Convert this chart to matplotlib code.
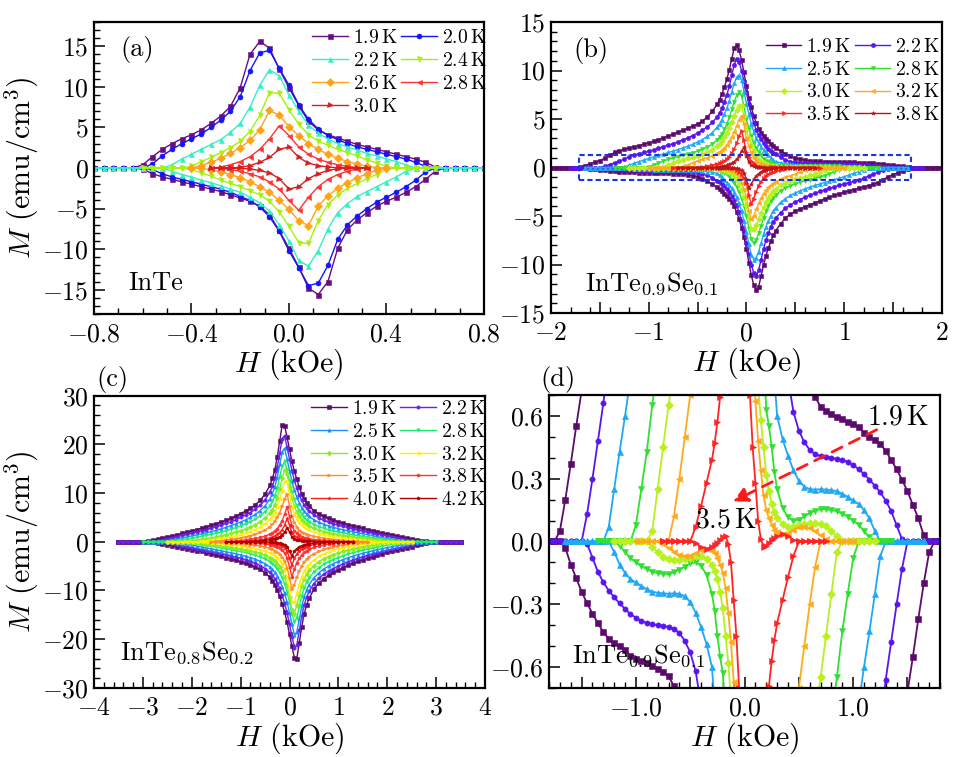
import numpy as np
import matplotlib
matplotlib.use('Agg')
import matplotlib.pyplot as plt
from matplotlib.patches import Rectangle
from matplotlib.ticker import MultipleLocator, FuncFormatter

plt.rcParams['font.family'] = 'serif'
plt.rcParams['font.serif'] = ['cmr10']
plt.rcParams['mathtext.fontset'] = 'cm'
plt.rcParams['axes.formatter.use_mathtext'] = True

# ---------------- data ----------------
# each list is the upper (field-decreasing) branch M(H) on the panel's H grid,
# the lower branch follows from the point symmetry of the loops

# (a) InTe
h_a = [-0.80, -0.76, -0.72, -0.68, -0.64, -0.60, -0.56, -0.52, -0.48, -0.44, -0.40,
       -0.36, -0.32, -0.28, -0.24, -0.20, -0.16, -0.12, -0.08, -0.04, 0.00,
       0.04, 0.08, 0.12, 0.16, 0.20, 0.24, 0.28, 0.32, 0.36, 0.40,
       0.44, 0.48, 0.52, 0.56, 0.60, 0.64, 0.68, 0.72, 0.76, 0.80]
temps_a = ['1.9', '2.0', '2.2', '2.4', '2.6', '2.8', '3.0']
a19 = [0]*5 + [0.4, 1.4, 2.3, 3.0, 3.6, 4.1, 4.7, 5.5, 6.4, 7.6, 9.9, 14.0, 15.6, 14.8, 12.2,
               9.9, 7.7, 5.75, 4.7, 4.1, 3.7, 3.3, 2.9, 2.6, 2.3, 2.0, 1.7, 1.4, 1.1, 0.7, 0.15] + [0]*5
a20 = [0]*5 + [0, 0.5, 1.5, 2.3, 3.0, 3.6, 4.2, 5.0, 5.9, 7.0, 8.8, 12.0, 14.2, 14.5, 12.3,
               10.2, 7.8, 6.0, 4.8, 4.0, 3.5, 3.0, 2.6, 2.3, 2.0, 1.7, 1.4, 1.1, 0.7, 0.2, 0] + [0]*5
a22 = [0]*7 + [0, 0.4, 1.1, 1.7, 2.3, 2.9, 3.5, 4.4, 5.5, 7.5, 10.2, 12.1, 11.4, 9.0,
               7.0, 5.3, 4.3, 3.6, 3.0, 2.6, 2.2, 1.8, 1.5, 1.1, 0.8, 0.4, 0] + [0]*7
a24 = [0]*9 + [0, 0.2, 0.8, 1.3, 1.9, 2.5, 3.3, 4.5, 6.5, 9.3, 9.2, 7.2,
               5.4, 4.1, 3.3, 2.8, 2.3, 1.9, 1.5, 1.0, 0.6, 0.2, 0] + [0]*9
a26 = [0]*10 + [0, 0.3, 0.7, 1.2, 1.8, 2.5, 3.4, 4.7, 7.1, 6.5, 5.1,
                4.0, 3.0, 2.3, 1.7, 1.2, 0.8, 0.5, 0.2, 0.05, 0] + [0]*10
a28 = [0]*12 + [0, 0.1, 0.4, 0.8, 1.4, 2.3, 3.6, 5.2, 4.0, 2.6, 1.7, 1.1, 0.7, 0.4, 0.2, 0.05, 0] + [0]*12
a30 = [0]*14 + [0, 0.1, 0.3, 0.7, 1.3, 2.3, 2.6, 1.3, 0.6, 0.3, 0.12, 0.03, 0] + [0]*14
hmax_a = [0.8, 0.8, 0.8, 0.6, 0.4, 0.32, 0.32]

# (b) and (d) InTe0.9Se0.1
h_b = [-2.0, -1.95, -1.9, -1.85, -1.8, -1.75, -1.7, -1.65, -1.6, -1.55, -1.5, -1.45,
       -1.4, -1.35, -1.3, -1.25, -1.2, -1.15, -1.1, -1.05, -1.0, -0.95, -0.9, -0.85,
       -0.8, -0.75, -0.7, -0.65, -0.6, -0.55, -0.5, -0.45, -0.4, -0.35,
       -0.3, -0.275, -0.25, -0.225, -0.2, -0.175, -0.15, -0.125, -0.1, -0.075, -0.05, -0.025,
       0.0, 0.025, 0.05, 0.075, 0.1, 0.125, 0.15, 0.175, 0.2, 0.225, 0.25, 0.275, 0.3,
       0.35, 0.4, 0.45, 0.5, 0.55, 0.6, 0.65, 0.7, 0.75, 0.8, 0.85, 0.9, 0.95, 1.0,
       1.05, 1.1, 1.15, 1.2, 1.25, 1.3, 1.35, 1.4, 1.45, 1.5, 1.55, 1.6, 1.65, 1.7,
       1.75, 1.8, 1.85, 1.9, 1.95, 2.0]
temps_b = ['1.9', '2.2', '2.5', '2.8', '3.0', '3.2', '3.5', '3.8']
b19 = [0]*6 + [0.05, 0.2, 0.37, 0.55, 0.72, 0.95, 1.25, 1.55, 1.72, 1.87, 2.0, 2.13, 2.27, 2.4,
               2.55, 2.72, 2.88, 3.05, 3.25, 3.45, 3.65, 3.85, 4.05, 4.27, 4.5, 4.8, 5.2, 5.8] \
    + [6.5, 7.0, 7.6, 8.3, 9.1, 10.1, 11.2, 12.3, 12.6, 12.1, 11.1, 9.8, 8.4, 7.2, 6.2, 5.3,
       4.6, 4.0, 3.6, 3.25, 2.95, 2.7, 2.45, 2.25, 2.05] \
    + [1.7, 1.4, 1.15, 0.97, 0.85, 0.76, 0.69, 0.645, 0.625, 0.61, 0.595, 0.583, 0.572, 0.56,
       0.545, 0.52, 0.5, 0.483, 0.465, 0.433, 0.39, 0.345, 0.295, 0.24, 0.175, 0.11, 0.03] + [0]*7
b22 = [0]*11 + [0.13, 0.3, 0.48, 0.66, 0.88, 1.12, 1.3, 1.43, 1.56, 1.68, 1.82, 1.98, 2.15,
                2.3, 2.47, 2.65, 2.85, 3.05, 3.3, 3.55, 3.85, 4.2, 4.65] \
    + [5.2, 5.6, 6.1, 6.8, 7.5, 8.4, 9.5, 10.6, 11.2, 10.9, 10.0, 8.9, 7.8, 6.5, 5.5, 4.6,
       3.9, 3.35, 2.9, 2.5, 2.2, 1.95, 1.7, 1.5, 1.35] \
    + [1.05, 0.78, 0.62, 0.53, 0.475, 0.437, 0.418, 0.408, 0.404, 0.4, 0.395, 0.389, 0.38,
       0.364, 0.347, 0.322, 0.296, 0.266, 0.235, 0.195, 0.145, 0.078, 0.01] + [0]*11
b25 = [0]*15 + [0.07, 0.25, 0.43, 0.6, 0.78, 0.95, 1.1, 1.25, 1.4, 1.55, 1.7, 1.85, 2.02,
                2.2, 2.4, 2.62, 2.88, 3.2, 3.6] \
    + [4.15, 4.5, 4.95, 5.5, 6.1, 6.9, 7.8, 8.7, 9.3, 9.5, 9.0, 7.9, 6.6, 5.5, 4.5, 3.7,
       3.05, 2.55, 2.15, 1.82, 1.55, 1.27, 1.0, 0.78, 0.6] \
    + [0.49, 0.41, 0.34, 0.29, 0.262, 0.25, 0.248, 0.25, 0.248, 0.245, 0.24, 0.228, 0.213,
       0.196, 0.18, 0.15, 0.11, 0.05, 0.0] + [0]*15
b28 = [0]*20 + [0.08, 0.25, 0.43, 0.65, 0.85, 1.0, 1.12, 1.25, 1.38, 1.52, 1.68, 1.87, 2.1, 2.4] \
    + [2.85, 3.15, 3.5, 3.95, 4.5, 5.2, 6.0, 6.8, 7.45, 7.75, 7.4, 6.3, 5.0, 4.0, 3.2, 2.55,
       2.0, 1.6, 1.25, 0.9, 0.63, 0.55, 0.45, 0.33, 0.25] \
    + [0.16, 0.115, 0.1, 0.105, 0.12, 0.135, 0.148, 0.155, 0.155, 0.15, 0.145, 0.132, 0.118,
       0.1, 0.08, 0.05, 0.02] + [0]*17
b30 = [0]*23 + [0.05, 0.25, 0.45, 0.65, 0.82, 0.95, 1.08, 1.22, 1.38, 1.58, 1.85] \
    + [2.2, 2.45, 2.75, 3.1, 3.55, 4.1, 4.7, 5.35, 5.95, 6.35, 6.3, 5.3, 3.9, 3.0, 2.3, 1.7,
       1.2, 0.75, 0.58, 0.45, 0.32, 0.24, 0.18, 0.14, 0.11] \
    + [0.085, 0.068, 0.07, 0.078, 0.085, 0.09, 0.09, 0.085, 0.072, 0.05, 0.025] + [0]*23
b32 = [0]*27 + [0.12, 0.3, 0.5, 0.7, 0.85, 1.0, 1.2] \
    + [1.45, 1.62, 1.82, 2.05, 2.35, 2.7, 3.15, 3.7, 4.3, 4.95, 5.35, 4.5, 3.0, 2.2, 1.55, 1.0,
       0.67, 0.48, 0.34, 0.22, 0.15, 0.11, 0.08, 0.055, 0.045] \
    + [0.037, 0.04, 0.055, 0.067, 0.068, 0.065, 0.048, 0.03, 0.01] + [0]*25
b35 = [0]*31 + [0.07, 0.17, 0.28] \
    + [0.39, 0.47, 0.57, 0.69, 0.85, 1.1, 1.45, 1.9, 2.5, 3.2, 3.8, 2.8, 1.6, 1.1, 0.7, 0.45,
       0.28, 0.1, 0.01, -0.025, -0.02, -0.005, 0.008, 0.018, 0.025] \
    + [0.035, 0.025, 0.008] + [0]*31
b38 = [0]*34 + [0.05, 0.08, 0.12, 0.17, 0.24, 0.33, 0.45, 0.62, 0.85, 1.2, 1.7, 2.1, 1.2,
                0.6, 0.3, 0.15, 0.08, 0.04, 0.02, 0.01, 0, 0, 0, 0, 0] + [0]*34
hmax_b = [2.0, 1.8, 1.65, 1.35, 1.2, 1.0, 0.75, 0.7]

# (c) InTe0.8Se0.2
h_c = [-3.5, -3.4, -3.3, -3.2, -3.1, -3.0, -2.9, -2.8, -2.7, -2.6, -2.5, -2.4, -2.3, -2.2,
       -2.1, -2.0, -1.9, -1.8, -1.7, -1.6, -1.5, -1.4, -1.3, -1.2, -1.1, -1.0, -0.9, -0.8,
       -0.7, -0.6, -0.5,
       -0.4, -0.35, -0.3, -0.25, -0.2, -0.15, -0.1, -0.05, 0.0, 0.05, 0.1, 0.15, 0.2, 0.25,
       0.3, 0.35, 0.4,
       0.5, 0.6, 0.7, 0.8, 0.9, 1.0, 1.1, 1.2, 1.3, 1.4, 1.5, 1.6, 1.7, 1.8, 1.9, 2.0, 2.1,
       2.2, 2.3, 2.4, 2.5, 2.6, 2.7, 2.8, 2.9, 3.0, 3.1, 3.2, 3.3, 3.4, 3.5]
temps_c = ['1.9', '2.2', '2.5', '2.8', '3.0', '3.2', '3.5', '3.8', '4.0', '4.2']
c19 = [0]*6 + [0.1, 0.3, 0.5, 0.75, 1.0, 1.2, 1.45, 1.7, 1.95, 2.2, 2.5, 2.8, 3.1, 3.4, 3.7,
               4.05, 4.4, 4.8, 5.3, 5.8, 6.3, 6.9, 7.6, 8.5, 9.8] \
    + [11.6, 13.0, 14.8, 17.5, 20.8, 24.0, 23.8, 21.5, 19.0, 16.5, 14.5, 12.8, 11.2, 9.9, 8.8, 8.0, 7.3] \
    + [6.4, 5.7, 5.2, 4.8, 4.4, 4.1, 3.8, 3.5, 3.25, 3.0, 2.75, 2.5, 2.25, 2.0, 1.8, 1.6, 1.4,
       1.2, 1.0, 0.8, 0.6, 0.4, 0.25, 0.1] + [0]*7
c22 = [0]*7 + [0.1, 0.25, 0.45, 0.65, 0.85, 1.05, 1.3, 1.5, 1.75, 2.0, 2.25, 2.5, 2.8, 3.1,
               3.4, 3.75, 4.1, 4.5, 5.0, 5.5, 6.0, 6.7, 7.5, 8.6] \
    + [10.2, 11.4, 13.0, 15.3, 18.2, 21.2, 21.8, 19.5, 17.0, 14.6, 12.6, 11.0, 9.6, 8.5, 7.6, 6.9, 6.3] \
    + [5.5, 4.9, 4.4, 4.0, 3.7, 3.4, 3.15, 2.9, 2.65, 2.4, 2.2, 2.0, 1.8, 1.6, 1.4, 1.2, 1.0,
       0.8, 0.6, 0.45, 0.3, 0.15, 0.05] + [0]*8
c25 = [0]*9 + [0.1, 0.25, 0.4, 0.6, 0.8, 1.0, 1.2, 1.4, 1.6, 1.85, 2.1, 2.35, 2.65, 2.95,
               3.3, 3.65, 4.05, 4.5, 5.0, 5.6, 6.4, 7.4] \
    + [8.8, 9.9, 11.3, 13.3, 15.9, 18.5, 19.2, 17.0, 14.6, 12.4, 10.6, 9.2, 8.0, 7.0, 6.3, 5.7, 5.2] \
    + [4.5, 4.0, 3.6, 3.25, 2.95, 2.7, 2.45, 2.25, 2.05, 1.85, 1.65, 1.45, 1.25, 1.05, 0.85,
       0.7, 0.55, 0.4, 0.25, 0.12, 0.03] + [0]*10
c28 = [0]*11 + [0.1, 0.25, 0.4, 0.55, 0.7, 0.9, 1.1, 1.3, 1.5, 1.75, 2.0, 2.25, 2.55, 2.9,
                3.25, 3.65, 4.1, 4.65, 5.3, 6.2] \
    + [7.4, 8.3, 9.5, 11.1, 13.3, 15.6, 16.5, 14.8, 12.4, 10.3, 8.7, 7.4, 6.4, 5.6, 5.0, 4.5, 4.1] \
    + [3.5, 3.1, 2.75, 2.45, 2.2, 2.0, 1.8, 1.6, 1.4, 1.25, 1.1, 0.95, 0.8, 0.65, 0.5, 0.38,
       0.26, 0.15, 0.06] + [0]*12
c30 = [0]*14 + [0.08, 0.2, 0.35, 0.5, 0.65, 0.8, 1.0, 1.2, 1.45, 1.7, 2.0, 2.3, 2.65, 3.05,
                3.5, 4.1, 4.9] \
    + [5.9, 6.6, 7.6, 9.0, 10.9, 13.0, 14.8, 14.0, 11.3, 9.0, 7.3, 6.1, 5.2, 4.5, 4.0, 3.6, 3.25] \
    + [2.75, 2.4, 2.1, 1.85, 1.65, 1.45, 1.28, 1.12, 0.97, 0.83, 0.7, 0.57, 0.45, 0.33, 0.22,
       0.12, 0.04] + [0]*14
c32 = [0]*17 + [0.1, 0.22, 0.35, 0.5, 0.65, 0.82, 1.0, 1.22, 1.46, 1.75, 2.1, 2.5, 3.0, 3.7] \
    + [4.6, 5.2, 6.0, 7.2, 8.7, 10.5, 12.4, 12.3, 9.6, 7.3, 5.7, 4.6, 3.9, 3.35, 2.95, 2.6, 2.35] \
    + [1.95, 1.65, 1.42, 1.22, 1.05, 0.9, 0.76, 0.63, 0.51, 0.4, 0.3, 0.2, 0.11, 0.04] + [0]*17
c35 = [0]*20 + [0.08, 0.2, 0.33, 0.47, 0.62, 0.8, 1.0, 1.25, 1.55, 1.95, 2.45] \
    + [3.1, 3.6, 4.2, 5.0, 6.0, 7.3, 8.8, 9.8, 7.4, 5.3, 4.0, 3.1, 2.5, 2.1, 1.8, 1.55, 1.35] \
    + [1.08, 0.88, 0.72, 0.58, 0.46, 0.36, 0.27, 0.19, 0.12, 0.06, 0.02] + [0]*20
c38 = [0]*23 + [0.06, 0.15, 0.25, 0.37, 0.5, 0.67, 0.88, 1.15] \
    + [1.55, 1.85, 2.2, 2.7, 3.4, 4.3, 5.6, 7.2, 5.2, 3.3, 2.3, 1.7, 1.3, 1.05, 0.87, 0.73, 0.62] \
    + [0.46, 0.35, 0.26, 0.19, 0.13, 0.08, 0.04, 0.01] + [0]*23
c40 = [0]*25 + [0.05, 0.12, 0.2, 0.3, 0.42, 0.58] \
    + [0.82, 0.98, 1.2, 1.5, 1.9, 2.5, 3.4, 4.8, 3.4, 1.9, 1.25, 0.9, 0.68, 0.53, 0.42, 0.34, 0.28] \
    + [0.19, 0.13, 0.08, 0.05, 0.02] + [0]*26
c42 = [0]*27 + [0.04, 0.1, 0.18, 0.28] \
    + [0.42, 0.52, 0.65, 0.82, 1.05, 1.4, 1.95, 2.9, 2.0, 1.0, 0.6, 0.4, 0.28, 0.2, 0.14, 0.1, 0.07] \
    + [0.04, 0.02] + [0]*29
hmax_c = [3.5, 3.5, 3.0, 3.0, 2.5, 2.5, 1.6, 1.3, 1.3, 1.3]

# ---------------- styles ----------------
colors_a = ['#6a0d83', '#1414ff', '#33f0c4', '#a8f00a', '#ffa31a', '#ff3333', '#d42020']
markers_a = ['s', 'o', '^', 'v', 'D', '<', '>']
colors_b = ['#5c0a6b', '#5a14f0', '#1fa8f5', '#30e030', '#b8f020', '#ffaa1a', '#ff2424', '#b81818']
markers_b = ['s', 'o', '^', 'v', 'D', '<', '>', '*']
colors_c = ['#5c0a6b', '#6622ee', '#1a8cff', '#1aee70', '#88ee22', '#ffee00', '#ff8c26',
            '#ff3333', '#ff1a1a', '#b00000']
markers_c = ['s', 'o', '^', 'v', 'D', '<', '>', 'H', '*', 'p']


def loop(h, m_up, hmax):
    # the loops are point symmetric: M_down(H) = -M_up(-H)
    h = np.array(h, dtype=float)
    m_up = np.array(m_up, dtype=float)
    assert len(h) == len(m_up)
    m_dn = -m_up[::-1]
    k = np.abs(h) <= hmax + 1e-6
    hh = np.concatenate([h[k], h[k][::-1]])
    mm = np.concatenate([m_dn[k], m_up[k][::-1]])
    return hh, mm


def draw(ax, h, curves, hmax, temps, colors, markers, ms, lw):
    lines = []
    for m, hm, t, c, mk in zip(curves, hmax, temps, colors, markers):
        x, y = loop(h, m, hm)
        ln, = ax.plot(x, y, color=c, marker=mk, ms=ms, lw=lw, mew=0.4,
                      label=r'$%s\,\mathrm{K}$' % t)
        lines.append(ln)
    return lines


def style(ax):
    ax.tick_params(which='both', direction='in', top=False, right=False, labelsize=18.5)
    ax.tick_params(which='major', length=8, width=1.1)
    ax.tick_params(which='minor', length=4.5, width=1.0)
    ax.tick_params(axis='x', which='major', pad=6)
    ax.tick_params(axis='y', which='major', pad=4)
    for s in ax.spines.values():
        s.set_linewidth(1.6)


def legend(ax, lines, x, y):
    order = lines[0::2] + lines[1::2]   # fill the two columns row by row
    ax.legend(handles=order, ncol=2, loc='upper left', bbox_to_anchor=(x, y),
              frameon=False, fontsize=14.2, handlelength=1.8, handletextpad=0.25,
              columnspacing=0.2, labelspacing=0.24, borderpad=0, borderaxespad=0)


def only_int(v, p):
    return r'$%g$' % v if abs(v - round(v)) < 1e-6 else ''


fig = plt.figure(figsize=(9.61, 7.57), dpi=100)
ax_a = fig.add_axes([0.0978, 0.5852, 0.4058, 0.3857])
ax_b = fig.add_axes([0.5734, 0.5865, 0.4066, 0.3844])
ax_c = fig.add_axes([0.0978, 0.0915, 0.4069, 0.3857])
ax_d = fig.add_axes([0.5713, 0.0912, 0.4069, 0.3870])

# (a)
la = draw(ax_a, h_a, [a19, a20, a22, a24, a26, a28, a30], hmax_a, temps_a,
          colors_a, markers_a, 3.6, 1.0)
ax_a.set_xlim(-0.8, 0.8)
ax_a.set_ylim(-18, 18)
ax_a.xaxis.set_major_locator(MultipleLocator(0.4))
ax_a.xaxis.set_minor_locator(MultipleLocator(0.1))
ax_a.xaxis.set_major_formatter(FuncFormatter(lambda v, p: r'$%.1f$' % v))
ax_a.yaxis.set_major_locator(MultipleLocator(5))
ax_a.yaxis.set_minor_locator(MultipleLocator(1))
style(ax_a)
legend(ax_a, la, 0.56, 0.975)
ax_a.text(0.067, 0.905, '(a)', transform=ax_a.transAxes, fontsize=19, va='center')
ax_a.text(0.087, 0.082, 'InTe', transform=ax_a.transAxes, fontsize=19, va='baseline')
ax_a.set_xlabel(r'$H$ (kOe)', fontsize=21.5)
ax_a.xaxis.set_label_coords(0.5, -0.112)
ax_a.set_ylabel(r'$M$ (emu/cm$^3$)', fontsize=21.5)
ax_a.yaxis.set_label_coords(-0.135, 0.5)

# (b)
curves_b = [b19, b22, b25, b28, b30, b32, b35, b38]
lb = draw(ax_b, h_b, curves_b, hmax_b, temps_b, colors_b, markers_b, 3.0, 1.0)
ax_b.set_xlim(-2, 2)
ax_b.set_ylim(-15, 15)
ax_b.xaxis.set_major_locator(MultipleLocator(0.5))
ax_b.xaxis.set_minor_locator(MultipleLocator(0.2))
ax_b.xaxis.set_major_formatter(FuncFormatter(only_int))
ax_b.yaxis.set_major_locator(MultipleLocator(5))
ax_b.yaxis.set_minor_locator(MultipleLocator(1))
style(ax_b)
legend(ax_b, lb, 0.55, 0.945)
ax_b.add_patch(Rectangle((-1.71, -1.33), 3.40, 2.61, fill=False, ec='#1a35e0',
                         ls=(0, (2.5, 1.5)), lw=1.5, zorder=5))
ax_b.text(0.056, 0.902, '(b)', transform=ax_b.transAxes, fontsize=19, va='center')
ax_b.text(0.087, 0.079, r'InTe$_{0.9}$Se$_{0.1}$', transform=ax_b.transAxes,
          fontsize=19, va='baseline')
ax_b.set_xlabel(r'$H$ (kOe)', fontsize=21.5)
ax_b.xaxis.set_label_coords(0.5, -0.112)

# (c)
curves_c = [c19, c22, c25, c28, c30, c32, c35, c38, c40, c42]
lc = draw(ax_c, h_c, curves_c, hmax_c, temps_c, colors_c, markers_c, 2.4, 1.0)
ax_c.set_xlim(-4, 4)
ax_c.set_ylim(-30, 30)
ax_c.xaxis.set_major_locator(MultipleLocator(1))
ax_c.xaxis.set_minor_locator(MultipleLocator(0.2))
ax_c.yaxis.set_major_locator(MultipleLocator(10))
ax_c.yaxis.set_minor_locator(MultipleLocator(2))
style(ax_c)
legend(ax_c, lc, 0.556, 0.985)
ax_c.text(0.007, 1.054, '(c)', transform=ax_c.transAxes, fontsize=19, va='center')
ax_c.text(0.066, 0.097, r'InTe$_{0.8}$Se$_{0.2}$', transform=ax_c.transAxes,
          fontsize=19, va='baseline')
ax_c.set_xlabel(r'$H$ (kOe)', fontsize=21.5)
ax_c.xaxis.set_label_coords(0.5, -0.112)
ax_c.set_ylabel(r'$M$ (emu/cm$^3$)', fontsize=21.5)
ax_c.yaxis.set_label_coords(-0.135, 0.5)

# (d) zoom of the box in (b), without 3.8 K
draw(ax_d, h_b, curves_b[:7], hmax_b[:7], temps_b[:7], colors_b[:7], markers_b[:7], 3.8, 1.3)
ax_d.set_xlim(-1.8, 1.8)
ax_d.set_ylim(-0.7, 0.7)
ax_d.xaxis.set_major_locator(MultipleLocator(0.5))
ax_d.xaxis.set_minor_locator(MultipleLocator(0.1))
ax_d.xaxis.set_major_formatter(FuncFormatter(
    lambda v, p: r'$%.1f$' % v if abs(v - round(v)) < 1e-6 else ''))
ax_d.yaxis.set_major_locator(MultipleLocator(0.3))
ax_d.yaxis.set_minor_locator(MultipleLocator(0.1))
ax_d.yaxis.set_major_formatter(FuncFormatter(lambda v, p: r'$%.1f$' % v))
style(ax_d)
ax_d.annotate('', xy=(-0.13, 0.185), xytext=(1.24, 0.54),
              arrowprops=dict(arrowstyle='-|>', color='#ff1a1a', lw=2,
                              linestyle=(0, (4, 3)), mutation_scale=22))
ax_d.text(1.41, 0.593, r'$1.9\,\mathrm{K}$', fontsize=20, ha='center', va='center')
ax_d.text(-0.17, 0.10, r'$3.5\,\mathrm{K}$', fontsize=20, ha='center', va='center')
ax_d.text(-0.023, 1.053, '(d)', transform=ax_d.transAxes, fontsize=19, va='center')
ax_d.text(0.058, 0.086, r'InTe$_{0.9}$Se$_{0.1}$', transform=ax_d.transAxes,
          fontsize=19, va='baseline')
ax_d.set_xlabel(r'$H$ (kOe)', fontsize=21.5)
ax_d.xaxis.set_label_coords(0.5, -0.112)

fig.savefig('out.png', dpi=100)
